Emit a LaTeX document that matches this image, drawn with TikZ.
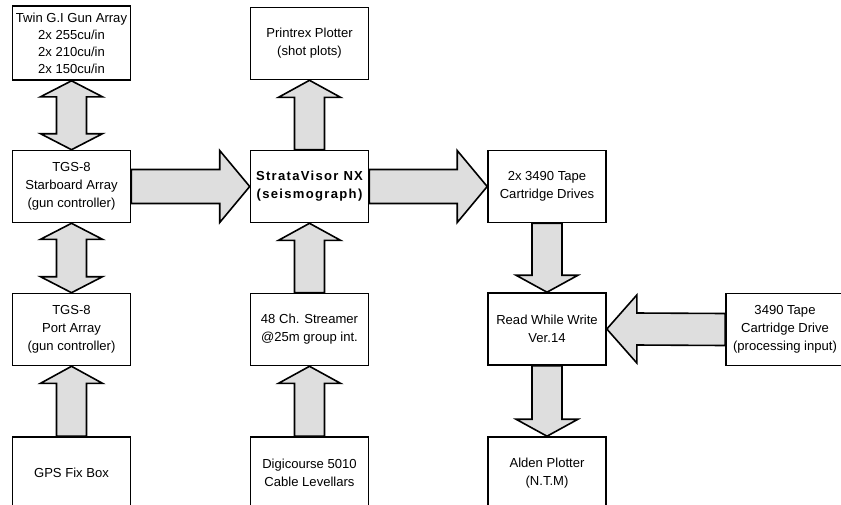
\documentclass[tikz,border=0pt]{standalone}
\usepackage{fontspec}
\setmainfont{Liberation Sans}
\newfontfamily\spacedfont[LetterSpace=10]{Liberation Sans}
\usetikzlibrary{calc}
\pgfdeclarelayer{background}
\pgfsetlayers{background,main}

\tikzset{
  unit/.style={draw, line width=1.2pt, fill=white, minimum width=88.5pt, minimum height=54pt,
    align=center, inner sep=1pt, font=\fontsize{9.8}{13.5}\selectfont},
  blockarr/.style={draw, line width=1.2pt, fill=black!13, line join=miter},
}

% block arrows, tail node first, tip node second
\newcommand{\arrup}[2]{\draw[blockarr] ($(#1.north)+(-15,0)$) -- ($(#2.south)+(-15,17)$) -- ($(#2.south)+(-31,17)$) -- (#2.south) -- ($(#2.south)+(31,17)$) -- ($(#2.south)+(15,17)$) -- ($(#1.north)+(15,0)$) -- cycle;}
\newcommand{\arrdown}[2]{\draw[blockarr] ($(#1.south)+(-15,0)$) -- ($(#2.north)+(-15,-17)$) -- ($(#2.north)+(-31,-17)$) -- (#2.north) -- ($(#2.north)+(31,-17)$) -- ($(#2.north)+(15,-17)$) -- ($(#1.south)+(15,0)$) -- cycle;}
\newcommand{\arrright}[2]{\draw[blockarr] ($(#1.east)+(0,-17)$) -- ($(#2.west)+(-30,-17)$) -- ($(#2.west)+(-30,-36)$) -- (#2.west) -- ($(#2.west)+(-30,36)$) -- ($(#2.west)+(-30,17)$) -- ($(#1.east)+(0,17)$) -- cycle;}
\newcommand{\arrleft}[2]{\draw[blockarr] ($(#1.west)+(0,-16)$) -- ($(#2.east)+(30,-16)$) -- ($(#2.east)+(30,-34)$) -- (#2.east) -- ($(#2.east)+(30,34)$) -- ($(#2.east)+(30,16)$) -- ($(#1.west)+(0,16)$) -- cycle;}
\newcommand{\arrboth}[2]{\draw[blockarr] (#1.south) -- ($(#1.south)+(31,16)$) -- ($(#1.south)+(15,16)$) -- ($(#2.north)+(15,-16)$) -- ($(#2.north)+(31,-16)$) -- (#2.north) -- ($(#2.north)+(-31,-16)$) -- ($(#2.north)+(-15,-16)$) -- ($(#1.south)+(-15,16)$) -- ($(#1.south)+(-31,16)$) -- cycle;}

\begin{document}
\begin{tikzpicture}[x=0.75pt, y=-0.75pt]
\useasboundingbox (0,0) rectangle (841,504);

% left column
\node[unit, minimum height=55.5pt, font=\fontsize{9.8}{12.75}\selectfont] (twin) at (71.5,43) {Twin G.I Gun Array\\2x 255cu/in\\2x 210cu/in\\2x 150cu/in};
\node[unit] (stbd) at (71.5,186.5) {TGS-8\\Starboard Array\\(gun controller)};
\node[unit] (port) at (71.5,329.5) {TGS-8\\Port Array\\(gun controller)};
\node[unit] (gps) at (71.5,473) {GPS Fix Box};

% middle column
\node[unit] (printrex) at (309.5,43.5) {Printrex Plotter\\(shot plots)};
\node[unit, font=\spacedfont\bfseries\fontsize{9.8}{13.5}\selectfont] (strata) at (309.5,186.5) {StrataVisor NX\\(seismograph)};
\node[unit] (streamer) at (309.5,329.5) {48 Ch. Streamer\\@25m group int.};
\node[unit] (digi) at (309.5,473) {Digicourse 5010\\Cable Levellars};

% right columns
\node[unit] (drives) at (547,186.5) {2x 3490 Tape\\Cartridge Drives};
\node[unit] (rww) at (547,329) {Read While Write\\Ver.14};
\node[unit] (alden) at (547,473) {Alden Plotter\\(N.T.M)};
\node[unit] (drive) at (785,329.5) {3490 Tape\\Cartridge Drive\\(processing input)};

\begin{pgfonlayer}{background}
\arrboth{twin}{stbd}
\arrboth{stbd}{port}
\arrup{gps}{port}
\arrup{strata}{printrex}
\arrup{streamer}{strata}
\arrup{digi}{streamer}
\arrright{stbd}{strata}
\arrright{strata}{drives}
\arrdown{drives}{rww}
\arrleft{drive}{rww}
\arrdown{rww}{alden}
\end{pgfonlayer}

\end{tikzpicture}
\end{document}
